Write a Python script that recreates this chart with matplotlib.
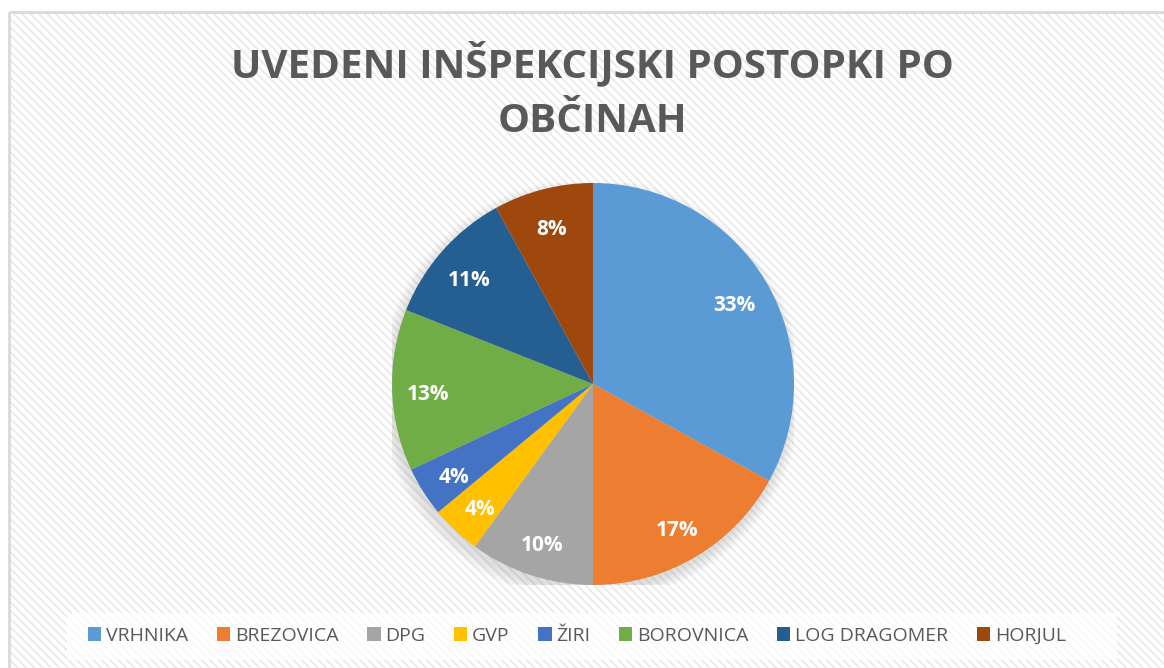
import matplotlib.pyplot as plt
from matplotlib.patches import Rectangle, Circle

# podatki
obcine = ["VRHNIKA", "BREZOVICA", "DPG", "GVP", "ŽIRI", "BOROVNICA", "LOG DRAGOMER", "HORJUL"]
delezi = [33, 17, 10, 4, 4, 13, 11, 8]
barve = ["#5B9BD5", "#ED7D31", "#A5A5A5", "#FFC000", "#4472C4", "#70AD47", "#255E91", "#9E480E"]
naslov = "UVEDENI INŠPEKCIJSKI POSTOPKI PO\nOBČINAH"

W, H = 1164, 668
plt.rcParams['font.family'] = ['Open Sans', 'DejaVu Sans']
plt.rcParams['hatch.linewidth'] = 1.3

fig = plt.figure(figsize=(W / 100, H / 100), dpi=100)
fig.patch.set_facecolor('white')

# ozadje s črtami in obroba
bg = fig.add_axes([0, 0, 1, 1])
bg.set_xlim(0, W)
bg.set_ylim(H, 0)
bg.axis('off')
bg.add_patch(Rectangle((9, 12), W, H, facecolor='white', edgecolor='#e9e9e9', lw=0, hatch='\\\\\\\\'))
bg.add_patch(Rectangle((9, 12), W, H, facecolor='none', edgecolor='#d9d9d9', lw=2))
bg.add_patch(Rectangle((67, 613), 1050, 47, facecolor='white', edgecolor='none', alpha=0.75))

vrstice = naslov.split("\n")
fig.text(592 / W, 1 - 63 / H, vrstice[0], ha='center', va='center',
         fontsize=29, fontweight='bold', color='#595959')
fig.text(592 / W, 1 - 122 / H, vrstice[1], ha='center', va='center',
         fontsize=29, fontweight='bold', color='#595959')

# tortni graf
cx, cy, r = 593, 384, 201
ax = fig.add_axes([(cx - r) / W, (H - cy - r) / H, 2 * r / W, 2 * r / H])

# mehka senca
for i in range(8):
    ax.add_patch(Circle((-0.012, -0.03), 1 + 0.008 * i, facecolor='#808080', edgecolor='none', alpha=0.03, zorder=0))

wedges, texts, autotexts = ax.pie(delezi, colors=barve, startangle=90, counterclock=False,
                                  radius=1, autopct='%1.0f%%', pctdistance=0.82,
                                  wedgeprops=dict(edgecolor='none'),
                                  textprops=dict(color='white', fontsize=15, fontweight='bold'))
for w in wedges:
    w.set_zorder(2)
for t in autotexts:
    t.set_zorder(3)
    x, y = t.get_position()
    t.set_position((x, y - 0.025))
ax.set_xlim(-1, 1)
ax.set_ylim(-1, 1)
ax.axis('off')

leg = fig.legend(wedges, obcine, loc='center', bbox_to_anchor=(577 / W, 1 - 636 / H), ncol=8,
                 frameon=False, fontsize=14, labelcolor='#595959', handlelength=0.7,
                 handleheight=0.7, handletextpad=0.25, columnspacing=1.45)

fig.savefig('out.png', dpi=100)
